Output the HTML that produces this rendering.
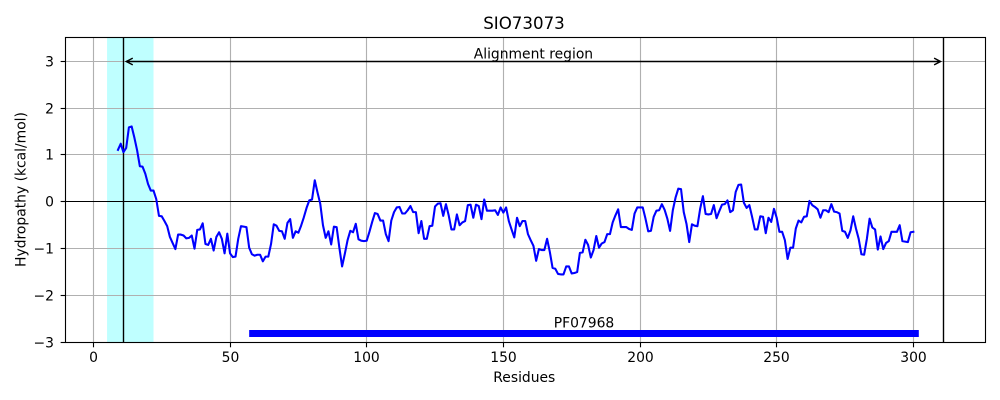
<!DOCTYPE html>
<html>
<head>
<meta charset="utf-8">
<style>
html,body{margin:0;padding:0;background:#fff;}
#chart{display:block;}
text{font-family:"DejaVu Sans","Liberation Sans",sans-serif;fill:#000;}
</style>
</head>
<body>
<svg id="chart" xmlns="http://www.w3.org/2000/svg" width="1000" height="400" viewBox="0 0 1000 400">
<rect x="0" y="0" width="1000" height="400" fill="#ffffff"/>
<text x="524" y="29" font-size="16.67" text-anchor="middle">SIO73073</text>
<text x="524.3" y="382" font-size="13.89" text-anchor="middle">Residues</text>
<text x="0" y="0" font-size="13.89" text-anchor="middle" transform="translate(25.5,189.5) rotate(-90)">Hydropathy (kcal/mol)</text>
<g id="plot"></g>
</svg>
<script>
const startResidue = 9;
const hydropathy = [
1.11,1.24,1.06,1.15,1.59,1.61,1.37,1.10,0.76,0.75,0.60,0.38,0.24,0.24,0.06,-0.30,-0.31,-0.41,-0.52,-0.75,
-0.88,-1.01,-0.70,-0.70,-0.72,-0.78,-0.77,-0.72,-1.00,-0.60,-0.59,-0.46,-0.90,-0.92,-0.79,-1.04,-0.75,-0.65,-0.79,-1.10,
-0.68,-1.10,-1.18,-1.17,-0.79,-0.52,-0.53,-0.54,-0.98,-1.12,-1.15,-1.13,-1.13,-1.27,-1.17,-1.17,-0.90,-0.48,-0.51,-0.62,
-0.63,-0.79,-0.45,-0.37,-0.77,-0.63,-0.66,-0.51,-0.33,-0.13,0.03,0.05,0.46,0.20,-0.04,-0.50,-0.77,-0.63,-0.91,-0.53,
-0.54,-0.98,-1.38,-1.11,-0.82,-0.62,-0.65,-0.47,-0.80,-0.83,-0.84,-0.83,-0.64,-0.43,-0.24,-0.26,-0.40,-0.40,-0.69,-0.84,
-0.40,-0.22,-0.12,-0.11,-0.25,-0.25,-0.18,-0.09,-0.22,-0.22,-0.67,-0.41,-0.79,-0.79,-0.52,-0.51,-0.10,-0.04,-0.03,-0.30,
-0.05,-0.29,-0.59,-0.59,-0.27,-0.50,-0.44,-0.41,-0.07,-0.06,-0.34,-0.06,-0.09,-0.37,0.05,-0.19,-0.19,-0.19,-0.18,-0.28,
-0.12,-0.23,-0.12,-0.41,-0.59,-0.76,-0.34,-0.52,-0.41,-0.41,-0.69,-0.82,-0.94,-1.26,-1.01,-1.03,-1.03,-0.79,-1.07,-1.41,
-1.43,-1.54,-1.55,-1.55,-1.38,-1.38,-1.53,-1.52,-1.50,-1.09,-1.08,-0.81,-0.92,-1.19,-1.03,-0.73,-0.98,-0.89,-0.86,-0.69,
-0.69,-0.44,-0.29,-0.16,-0.54,-0.54,-0.54,-0.58,-0.60,-0.25,-0.12,-0.12,-0.12,-0.36,-0.63,-0.62,-0.32,-0.19,-0.18,-0.05,
-0.17,-0.36,-0.62,-0.18,0.09,0.28,0.27,-0.22,-0.47,-0.86,-0.48,-0.51,-0.52,-0.15,0.12,-0.26,-0.27,-0.26,-0.07,-0.35,
-0.20,-0.06,-0.05,0.03,-0.22,-0.18,0.21,0.36,0.37,-0.02,-0.13,-0.07,-0.32,-0.59,-0.59,-0.31,-0.32,-0.67,-0.34,-0.43,
-0.15,-0.34,-0.64,-0.64,-0.82,-1.22,-0.98,-0.98,-0.57,-0.40,-0.44,-0.32,-0.31,0.02,-0.07,-0.11,-0.16,-0.34,-0.18,-0.18,
-0.22,-0.05,-0.21,-0.22,-0.25,-0.62,-0.64,-0.77,-0.61,-0.31,-0.57,-0.79,-1.12,-1.13,-0.79,-0.36,-0.55,-0.59,-1.02,-0.74,
-1.01,-0.88,-0.84,-0.64,-0.64,-0.64,-0.50,-0.84,-0.85,-0.86,-0.65,-0.64
];
const xTickValues = [0, 50, 100, 150, 200, 250, 300];
const yTickValues = [-3, -2, -1, 0, 1, 2, 3];
const highlightRegion = [5, 22];
const alignmentBounds = [11, 311];
const alignmentArrowLevel = [3];
const alignmentLabel = ["Alignment region"];
const domainSpan = [57, 302];
const domainLevel = [-2.8];
const domainLabel = ["PF07968"];
const xDomain = [-10.2, 326.4];
const yDomain = [-3, 3.509];

const plotLeft = 65.5, plotRight = 985.5, plotTop = 37.5, plotBottom = 342.3;
const NS = 'http://www.w3.org/2000/svg';
const plot = document.getElementById('plot');

function xScale(v){ return plotLeft + (v - xDomain[0]) / (xDomain[1] - xDomain[0]) * (plotRight - plotLeft); }
function yScale(v){ return plotBottom - (v - yDomain[0]) / (yDomain[1] - yDomain[0]) * (plotBottom - plotTop); }
function snap(p){ return Math.floor(p) + 0.5; }
function make(tag, attrs){
  const el = document.createElementNS(NS, tag);
  for (const k in attrs) el.setAttribute(k, attrs[k]);
  plot.appendChild(el);
  return el;
}
function seg(x1, y1, x2, y2, stroke, width){
  return make('line', {x1:x1, y1:y1, x2:x2, y2:y2, stroke:stroke, 'stroke-width':width});
}
function fmt(v){ return v < 0 ? '\u2212' + Math.abs(v) : String(v); }

const band = make('rect', {x:xScale(highlightRegion[0]), y:plotTop, width:xScale(highlightRegion[1]) - xScale(highlightRegion[0]), height:plotBottom - plotTop, fill:'#bfffff'});



xTickValues.forEach(function(v){
  const px = snap(xScale(v));
  const grid = seg(px, plotTop, px, plotBottom, '#b0b0b0', 1.11);
  
  
  const tick = seg(px, plotBottom, px, plotBottom + 5, '#000', 1.11);
  
  
  const label = make('text', {x:px, y:362, 'font-size':13.89, 'text-anchor':'middle'});
  label.textContent = fmt(v);
  
  
});

yTickValues.forEach(function(v){
  const py = snap(yScale(v));
  const grid = seg(plotLeft, py, plotRight, py, '#b0b0b0', 1.11);
  
  
  const tick = seg(plotLeft - 4.86, py, plotLeft, py, '#000', 1.11);
  
  
  const label = make('text', {x:54, y:py + 5, 'font-size':13.89, 'text-anchor':'end'});
  label.textContent = fmt(v);
  
  
});

const zeroLine = seg(plotLeft, snap(yScale(0)), plotRight, snap(yScale(0)), '#000', 1.0);



alignmentBounds.forEach(function(v, i){
  const px = snap(xScale(v));
  const b = seg(px, plotTop, px, plotBottom, '#000', 1.39);
  
  
});

const bar = seg(xScale(domainSpan[0]), yScale(domainLevel[0]) + 0.6, xScale(domainSpan[1]), yScale(domainLevel[0]) + 0.6, '#0000ff', 7);



const barLabel = make('text', {x:(xScale(domainSpan[0]) + xScale(domainSpan[1])) / 2, y:yScale(domainLevel[0]) - 5.5, 'font-size':13.89, 'text-anchor':'middle'});
barLabel.textContent = domainLabel[0];



const series = make('polyline', {
  points: hydropathy.map(function(v, i){ return xScale(startResidue + i).toFixed(2) + ',' + yScale(v).toFixed(2); }).join(' '),
  fill:'none', stroke:'#0000ff', 'stroke-width':2.08, 'stroke-linejoin':'round', 'stroke-linecap':'square'
});



const ay = snap(yScale(alignmentArrowLevel[0]));
const ax1 = xScale(alignmentBounds[0]) + 2.8;
const ax2 = xScale(alignmentBounds[1]) - 2.8;
const arrow = make('path', {
  d:'M' + ax1 + ' ' + ay + 'L' + ax2 + ' ' + ay +
    'M' + (ax1 + 6.5) + ' ' + (ay - 3.4) + 'L' + ax1 + ' ' + ay + 'L' + (ax1 + 6.5) + ' ' + (ay + 3.4) +
    'M' + (ax2 - 6.5) + ' ' + (ay - 3.4) + 'L' + ax2 + ' ' + ay + 'L' + (ax2 - 6.5) + ' ' + (ay + 3.4),
  fill:'none', stroke:'#000', 'stroke-width':1.39
});



const arrowLabel = make('text', {x:(xScale(alignmentBounds[0]) + xScale(alignmentBounds[1])) / 2, y:ay - 3, 'font-size':13.89, 'text-anchor':'middle'});
arrowLabel.textContent = alignmentLabel[0];



const frame = make('rect', {x:plotLeft, y:plotTop, width:plotRight - plotLeft, height:snap(plotBottom) - plotTop, fill:'none', stroke:'#000', 'stroke-width':1.11});


</script>
</body>
</html>
